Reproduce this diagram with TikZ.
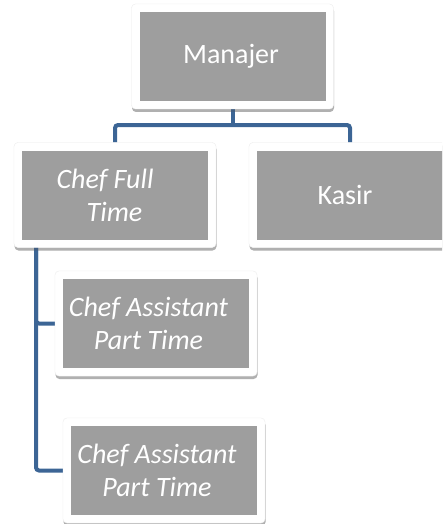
\documentclass[tikz,border=0pt]{standalone}
\usepackage{fontspec}
\setmainfont{Carlito}
\usetikzlibrary{shadows}
\definecolor{boxgray}{HTML}{9E9E9E}
\definecolor{linkblue}{HTML}{3C6595}
\tikzset{
  outerbox/.style={rectangle, rounded corners=4pt, fill=white, draw=black!6,
    minimum width=202pt, minimum height=105pt, inner sep=0pt,
    drop shadow={shadow xshift=0.5pt, shadow yshift=-3pt, opacity=0.25, fill=black!70}},
  innerbox/.style={rectangle, fill=boxgray, minimum width=186pt, minimum height=89pt, inner sep=0pt},
  lbl/.style={text=white, align=center, inner sep=0pt, font=\fontsize{28}{33}\selectfont},
  conn/.style={draw=linkblue, line width=4pt, rounded corners=3pt}
}
\begin{document}
\begin{tikzpicture}[x=1pt,y=-1pt]
\useasboundingbox (0,0) rectangle (442,524);
\clip (0,0) rectangle (442,524);
% connectors
\coordinate (mid) at (232.5,125);
\coordinate (lft) at (36,247);
\node[outerbox] (m) at (232.5,56.5) {};
\node[outerbox] (cft) at (115,195) {};
\node[outerbox] (kas) at (350,195) {};
\node[outerbox] (ca1) at (156,323.5) {};
\node[outerbox] (ca2) at (164,470.5) {};
\draw[conn] (m.south) -- (mid);
\draw[conn] (cft.north) |- (mid) -| (kas.north);
\draw[conn] (lft) |- (ca1.west);
\draw[conn] (lft) |- (ca2.west);
% redraw boxes on top of connector ends
\node[outerbox] (m2) at (m) {};
\node[outerbox] (cft2) at (cft) {};
\node[outerbox] (kas2) at (kas) {};
\node[outerbox] (ca12) at (ca1) {};
\node[outerbox] (ca22) at (ca2) {};
\node[innerbox] (mi) at (m) {};
\node[innerbox] (cfti) at (cft) {};
\node[innerbox] (kasi) at (kas) {};
\node[innerbox] (ca1i) at (ca1) {};
\node[innerbox] (ca2i) at (ca2) {};
% texts
\node[lbl] (mt) at (231,56.5) {Manajer};
\node[lbl] (kt) at (345,194.5) {Kasir};
\node[lbl] (cftt) at (114.5,195) {\itshape Chef Full\hspace*{19pt}\\\itshape Time};
\node[lbl] (ca1t) at (148.5,323.5) {\itshape Chef Assistant\\\itshape Part Time};
\node[lbl] (ca2t) at (157,470.5) {\itshape Chef Assistant\\\itshape Part Time};
\end{tikzpicture}
\end{document}
